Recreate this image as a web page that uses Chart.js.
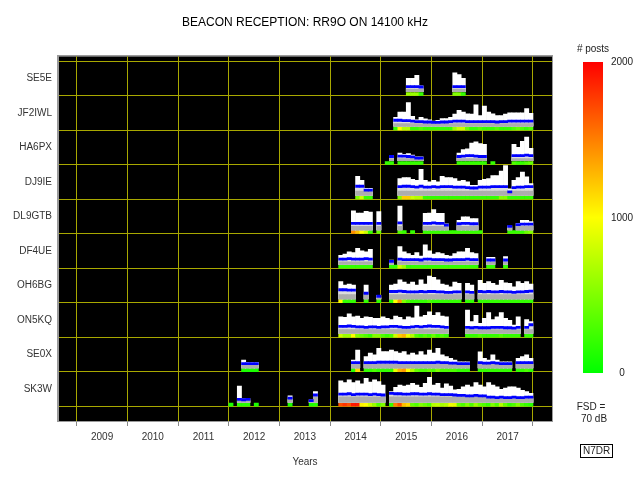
<!DOCTYPE html>
<html><head><meta charset="utf-8">
<script src="https://cdn.jsdelivr.net/npm/chart.js@4"></script>
<style>
body{margin:0;background:#fff;}
#wrap{position:relative;width:640px;height:480px;font-family:"Liberation Sans",Arial,sans-serif;}
canvas{position:absolute;left:0;top:0;}
.t{position:absolute;font-size:10px;line-height:12px;color:#222;white-space:nowrap;}
#cbar{position:absolute;left:583px;top:62px;width:20px;height:311px;background:linear-gradient(to top,#00ff00 0%,#ffff00 50%,#ff0000 100%);}
</style></head><body>
<div id="wrap">
<canvas id="c" width="640" height="480"></canvas>
<div id="cbar"></div>
<div class="t" style="left:563px;top:43px;width:60px;text-align:center"># posts</div>
<div class="t" style="left:566px;top:401px;width:50px;text-align:center">FSD =</div>
<div class="t" style="left:569px;top:413px;width:50px;text-align:center">70 dB</div>
<div class="t" style="left:580px;top:444px;border:1px solid #000;padding:0 2px;line-height:12px">N7DR</div>
</div>
<script>
const _ = null;
const titleText = 'BEACON RECEPTION: RR9O ON 14100 kHz';
const stations = ['SK3W','SE0X','ON5KQ','OH6BG','DF4UE','DL9GTB','DJ9IE','HA6PX','JF2IWL','SE5E'];
const years = ['2009','2010','2011','2012','2013','2014','2015','2016','2017'];
const colorTicks = [0, 1000, 2000];
// first month of each station's arrays, counted from January 2012
const firstMonth = [0, 3, 26, 26, 26, 29, 30, 37, 39, 42];
// typical lower band (dB) per station
const lowDb = [13, 8, 9, 10, 6, 8, 10, 5, 6, 6];

const topDb = [
 [_,_,38,8,9,_,_,_,_,_,_,_,_,_,15,_,_,_,_,6,25,_,_,_,_,_,50,46,52,46,50,43,56,47,52,48,40,_,25,35,40,38,40,44,40,35,44,58,40,44,33,43,38,29,30,36,40,36,46,40,36,46,40,36,30,33,36,36,33,28,25,21],
 [18,13,13,13,_,_,_,_,_,_,_,_,_,_,_,_,_,_,_,_,_,_,_,_,_,_,18,41,_,26,34,30,45,38,38,41,38,34,38,30,34,30,38,30,41,34,45,30,26,22,18,14,14,14,_,_,37,22,18,30,18,14,14,14,_,22,26,30,22],
 [38,37,45,38,40,35,38,37,35,35,38,35,32,40,37,32,38,36,63,38,42,50,42,48,40,38,_,_,_,_,54,27,42,23,35,48,32,38,48,35,30,19,38,_,32,27],
 [40,32,34,32,_,_,32,_,_,8,_,_,32,34,44,39,34,39,32,44,34,53,50,44,34,32,28,39,36,_,36,32,_,43,36,40,36,32,43,37,36,28,40,36,40,34],
 [21,24,29,27,37,31,29,35,_,_,_,_,10,_,41,29,25,21,27,19,45,31,24,27,25,21,19,25,29,29,37,27,25,_,_,16,16,_,_,18],
 [44,39,39,43,41,_,42,_,_,_,_,55,_,_,_,_,_,38,39,47,38,38,14,_,_,22,30,30,26,26,_,_,_,_,_,_,_,9,_,15,22,22,19],
 [44,35,16,16,_,_,_,_,_,_,39,41,41,37,35,60,35,31,35,31,44,41,41,39,33,35,31,23,23,35,37,39,46,46,56,69,15,35,41,54,43,27],
 [_,12,_,18,15,17,13,9,9,_,_,_,_,_,_,_,_,18,26,28,41,44,40,38,_,_,_,_,_,_,38,31,45,55,29],
 [21,33,33,55,23,15,21,17,15,12,14,18,18,21,28,37,33,29,28,50,25,47,33,29,25,25,28,31,31,31,31,41,30],
 [31,31,38,14,_,_,_,_,_,_,_,44,40,31]
];
const medDb = [
 [_,_,7,6,7,_,_,_,_,_,_,_,_,_,10,_,_,_,_,4,17,_,_,_,_,_,19,19,20,18,19,19,19,18,19,18,17,_,21,20,20,19,19,20,20,19,19,20,19,19,18,18,18,17,16,16,15,15,16,15,15,12,12,11,12,11,11,12,11,11,12,12],
 [10,10,10,10,_,_,_,_,_,_,_,_,_,_,_,_,_,_,_,_,_,_,_,_,_,_,12,12,_,12,12,12,13,13,13,13,13,12,12,12,12,12,12,12,12,12,13,12,12,11,11,10,10,10,_,_,12,11,11,12,11,10,10,10,_,12,12,12,12],
 [16,16,17,16,15,15,14,15,15,14,15,15,16,16,15,14,14,15,16,15,16,17,16,16,15,14,_,_,_,_,14,13,14,13,13,13,14,14,14,13,13,12,14,_,14,20],
 [21,21,20,20,_,_,13,_,_,6,_,_,17,17,18,17,16,16,16,17,16,17,17,16,16,15,15,16,16,_,16,15,_,17,16,17,16,16,17,16,16,15,16,16,17,18],
 [12,12,13,12,12,12,13,12,_,_,_,_,7,_,12,11,11,11,11,10,12,12,11,11,11,10,10,11,11,11,12,11,11,_,_,10,10,_,_,10],
 [15,15,15,15,15,_,15,_,_,_,_,16,_,_,_,_,_,15,15,16,15,15,11,_,_,14,15,15,14,14,_,_,_,_,_,_,_,8,_,12,13,13,13],
 [21,21,12,12,_,_,_,_,_,_,20,21,21,20,19,21,19,19,20,19,20,20,20,19,19,19,18,17,17,19,19,19,20,20,20,20,8,18,19,19,20,20],
 [_,10,_,11,11,10,9,6,6,_,_,_,_,_,_,_,_,10,11,12,12,11,10,10,_,_,_,_,_,_,12,12,12,13,12],
 [14,14,13,13,12,11,11,10,10,9,9,10,10,11,12,12,12,11,11,11,11,11,11,11,10,11,11,12,12,12,12,12,12],
 [12,12,12,11,_,_,_,_,_,_,_,12,12,12]
];
const posts = [
 [100,_,150,150,150,_,100,_,_,_,_,_,_,_,100,_,_,_,_,100,150,_,_,_,_,_,1700,1800,1700,1900,1900,1050,1000,800,600,300,500,_,200,1500,1700,1250,1150,400,300,500,400,300,700,750,650,700,950,900,400,300,500,300,600,400,300,200,500,300,700,400,200,300,500,300,200,150],
 [100,100,100,100,_,_,_,_,_,_,_,_,_,_,_,_,_,_,_,_,_,_,_,_,_,_,150,1150,_,200,200,300,200,200,200,200,900,1300,1400,1000,700,400,300,300,400,300,500,300,300,300,300,200,200,200,_,_,200,200,200,200,200,200,200,200,_,200,200,300,200],
 [800,600,600,1000,500,400,300,200,500,500,300,200,300,800,1200,1300,900,700,300,200,300,200,400,200,300,200,_,_,_,_,200,200,200,300,200,200,200,200,300,200,200,200,200,_,200,200],
 [1000,200,200,200,_,_,200,_,_,200,_,_,200,1000,1400,500,300,200,200,200,200,300,200,200,200,200,200,200,200,_,200,200,_,200,200,200,200,200,200,200,200,200,200,200,200,200],
 [200,200,200,200,200,200,200,200,_,_,_,_,200,200,800,600,200,200,200,200,200,200,200,200,200,200,200,200,200,200,200,200,200,_,_,200,200,_,_,200],
 [1450,1250,1000,800,200,_,400,_,_,_,_,300,200,_,200,_,_,200,200,200,200,200,200,200,200,200,200,200,200,200,200,_,_,_,_,_,_,200,200,200,200,400,500],
 [500,800,200,200,_,_,_,_,_,_,500,1200,1200,800,700,700,200,200,200,200,200,200,200,200,200,200,200,200,200,200,200,200,200,200,500,500,200,200,200,200,200,200],
 [200,200,_,200,200,200,200,200,200,_,_,_,_,_,_,_,_,200,200,200,200,200,200,200,_,200,_,_,_,_,300,200,200,300,400],
 [200,1000,700,700,200,200,300,200,200,200,200,200,200,200,600,800,800,400,200,200,300,200,200,200,300,200,200,200,300,400,300,200,300],
 [600,600,600,200,_,_,_,_,_,_,_,500,500,200]
];

const GOLD = '#a8a800';
const CLEAR = 'rgba(0,0,0,0)';
const ROW_BASE = 0.12, PER_DB = 1 / 80, BLUE_HALF = 2.5;

function postsColor(p) {
  const v = Math.max(0, Math.min(2000, p));
  let r, g;
  if (v <= 1000) { r = Math.round(255 * v / 1000); g = 255; }
  else { r = 255; g = Math.round(255 * (2000 - v) / 1000); }
  return 'rgb(' + r + ',' + g + ',0)';
}

const layers = {white: [], light: [], gray: [], blue: [], strip: []};
stations.forEach((name, r) => {
  const f = firstMonth[r];
  const n = Math.max(topDb[r].length, medDb[r].length, posts[r].length);
  for (let i = 0; i < n; i++) {
    const x = 2012 + (f + i + 0.5) / 12;
    const t = topDb[r][i], md = medDb[r][i], p = posts[r][i];
    const base = r + ROW_BASE;
    if (p != null) layers.strip.push({x, y: [r + 0.012, r + 0.1], p});
    if (t != null) layers.white.push({x, y: [base, base + t * PER_DB]});
    if (md != null) {
      const lo = Math.max(0, Math.min(lowDb[r], md - 3));
      layers.light.push({x, y: [base, base + Math.max(md - BLUE_HALF - 1, 0) * PER_DB]});
      layers.gray.push({x, y: [base, base + lo * PER_DB]});
      layers.blue.push({x, y: [base + (md - BLUE_HALF) * PER_DB, base + (md + BLUE_HALF) * PER_DB]});
    }
  }
});

// colour bar labels
const wrap = document.getElementById('wrap');
colorTicks.forEach(v => {
  const d = document.createElement('div');
  d.className = 't';
  d.style.left = '605px';
  d.style.width = '34px';
  d.style.textAlign = 'center';
  d.style.top = (373 - v / 2000 * 311 - 6) + 'px';
  d.textContent = String(v);
  wrap.appendChild(d);
});

const bgPlugin = {
  id: 'bg',
  beforeDraw(chart) {
    const {ctx, chartArea: a} = chart;
    ctx.save(); ctx.fillStyle = '#000';
    ctx.fillRect(a.left, a.top, a.right - a.left, a.bottom - a.top);
    ctx.restore();
  },
  afterDraw(chart) {
    const {ctx, chartArea: a} = chart;
    ctx.save(); ctx.strokeStyle = '#9a9a9a'; ctx.lineWidth = 1;
    ctx.strokeRect(Math.round(a.left) - 0.5, Math.round(a.top) - 0.5, Math.round(a.right - a.left) + 1, Math.round(a.bottom - a.top) + 1);
    ctx.restore();
  }
};

Chart.defaults.font.family = '"Liberation Sans", Arial, sans-serif';
Chart.defaults.color = '#222';

const barCommon = {grouped: false, barPercentage: 1, categoryPercentage: 1, borderWidth: 0};

new Chart(document.getElementById('c'), {
  type: 'bar',
  data: {
    datasets: [
      Object.assign({label: 'median', data: layers.blue, backgroundColor: '#0000ff'}, barCommon),
      Object.assign({label: 'low', data: layers.gray, backgroundColor: '#adadad'}, barCommon),
      Object.assign({label: 'mid', data: layers.light, backgroundColor: '#dcdcdc'}, barCommon),
      Object.assign({label: 'max', data: layers.white, backgroundColor: '#ffffff'}, barCommon),
      Object.assign({label: 'posts', data: layers.strip, backgroundColor: c => postsColor(c.raw ? c.raw.p : 0)}, barCommon)
    ]
  },
  options: {
    responsive: false,
    animation: false,
    events: [],
    layout: {padding: {left: 0, right: 88, top: 0, bottom: 0}},
    plugins: {
      legend: {display: false},
      tooltip: {enabled: false},
      title: {display: true, text: titleText, fullSize: false, color: '#000',
        font: {size: 12, weight: 'normal'}, padding: {top: 15, bottom: 27}}
    },
    scales: {
      x: {
        type: 'linear', min: 2008.63, max: 2018.375, bounds: 'data', offset: false, z: 1,
        afterBuildTicks: s => {
          const t = [];
          for (let i = 0; i <= years.length; i++) {
            t.push({value: 2009 + i});
            if (i < years.length) t.push({value: 2009 + i + 0.5});
          }
          s.ticks = t;
        },
        ticks: {autoSkip: false, maxRotation: 0, minRotation: 0, padding: 5, font: {size: 10}, color: '#333',
          callback: v => Number.isInteger(v) ? '' : years[Math.floor(v) - 2009]},
        grid: {offset: false, lineWidth: 1, tickLength: 5,
          color: c => (c.tick && Number.isInteger(c.tick.value)) ? GOLD : CLEAR,
          tickColor: c => (c.tick && Number.isInteger(c.tick.value)) ? '#888' : CLEAR},
        border: {display: true, color: '#9a9a9a'},
        title: {display: true, text: 'Years', color: '#333', font: {size: 10}, padding: {top: 0, bottom: 12}},
        afterFit: s => { s.height = 59; }
      },
      y: {
        type: 'linear', min: -0.42, max: 10.145, bounds: 'data', z: 1,
        afterBuildTicks: s => {
          const t = [];
          for (let i = 0; i <= stations.length; i++) {
            t.push({value: i});
            if (i < stations.length) t.push({value: i + 0.5});
          }
          s.ticks = t;
        },
        ticks: {autoSkip: false, padding: 6, font: {size: 10}, color: '#333',
          callback: v => Number.isInteger(v) ? '' : stations[Math.floor(v)]},
        grid: {drawTicks: false, lineWidth: 1,
          color: c => (c.tick && Number.isInteger(c.tick.value)) ? GOLD : CLEAR},
        border: {display: true, color: '#9a9a9a'},
        afterFit: s => { s.width = 58; }
      }
    }
  },
  plugins: [bgPlugin]
});
</script>
</body></html>
